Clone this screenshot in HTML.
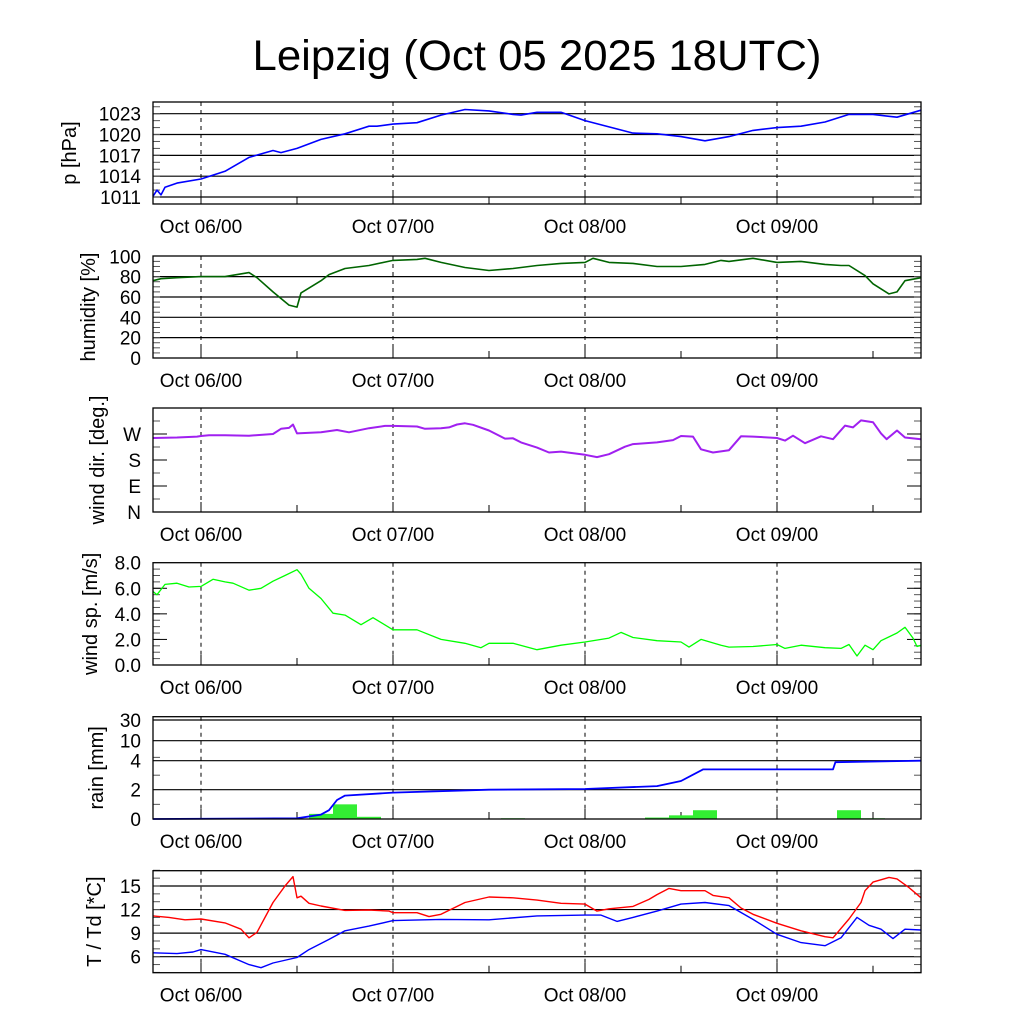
<!DOCTYPE html>
<html><head><meta charset="utf-8"><style>
html,body{margin:0;padding:0;background:#fff;}
svg{display:block;font-family:"Liberation Sans",sans-serif;}
</style></head><body>
<svg id="chart" width="1024" height="1024" viewBox="0 0 1024 1024" xmlns="http://www.w3.org/2000/svg">
<rect x="0" y="0" width="1024" height="1024" fill="#fff"/>
<text x="537" y="70" font-size="43" text-anchor="middle" textLength="569" lengthAdjust="spacingAndGlyphs">Leipzig (Oct 05 2025 18UTC)</text>
</svg>
<script>
// ---- data (hours relative to Oct 06 00UTC) ----
const dayTickLabels = ["Oct 06/00","Oct 07/00","Oct 08/00","Oct 09/00"];
const dayTickHours = [0,24,48,72];

const presHours = [-6,-5.5,-5,-4.5,-3,0,3,6,9,10,12,15,18,21,22,24,27,30,33,36,39,40,42,45,48,51,54,57,60,63,66,69,72,75,78,81,84,87,90];
const presVals  = [1011.1,1012.0,1011.3,1012.4,1013.0,1013.6,1014.7,1016.7,1017.7,1017.4,1018.0,1019.3,1020.1,1021.2,1021.2,1021.5,1021.7,1022.8,1023.6,1023.4,1022.9,1022.8,1023.2,1023.2,1022.0,1021.1,1020.2,1020.1,1019.7,1019.1,1019.7,1020.6,1021.0,1021.2,1021.8,1022.9,1022.9,1022.5,1023.5];

const humHours = [-6,-5,-3,0,3,6,7,9,11,12,12.5,15,16,18,21,24,27,28,30,33,36,39,42,45,48,49,51,54,57,60,63,65,66,69,72,75,78,80,81,83,84,86,87,88,90];
const humVals  = [76,78,79,80,80,84,79,65,52,50,64,76,82,88,91,96,97,98,94,89,86,88,91,93,94,98,94,93,90,90,92,96,95,98,94,95,92,91,91,81,73,63,65,76,79];

const dirHours = [-6,-3,-0.5,0,1,3,6,9,10,11,11.5,12,15,17,18.5,21,23,24,27,28,30,31,32,33,34,36,38,39,40,42,43.5,45,48,49.5,51,53,54,57,59,60,61.5,62.5,64,66,67.5,69,72,73,74,75.5,77.5,79,80.5,81.5,82.5,84,85,85.7,87,88,90];
const dirVals  = [256,258,261,263,266,266,264,270,288,291,303,272,276,284,276,290,298,298,296,288,290,293,303,307,302,282,254,255,241,223,206,209,198,190,200,226,235,241,249,263,261,217,206,214,262,261,256,247,264,238,262,252,299,293,317,311,272,252,282,258,252];

const spdHours = [-6,-5.5,-4.5,-3,-1.5,0,1.5,3,4,6,7.5,9,10.5,12,12.5,13.5,15,16.5,18,20,21.5,24,27,30,33,35,36,39,42,45,48,51,52.5,54,57,60,61,62.5,65,66,69,72,73,75,78,80,81,82,83,84,85,87,88,89,89.5,90];
const spdVals  = [5.75,5.5,6.3,6.4,6.1,6.15,6.7,6.5,6.4,5.85,6.0,6.55,7.0,7.45,7.1,6.0,5.2,4.05,3.9,3.15,3.7,2.75,2.75,2.0,1.7,1.35,1.7,1.7,1.2,1.55,1.8,2.1,2.55,2.15,1.9,1.8,1.4,2.0,1.55,1.4,1.45,1.6,1.3,1.55,1.35,1.3,1.6,0.7,1.55,1.2,1.9,2.5,2.95,2.1,1.45,1.55];

const rainSumHours = [-6,12,15,16,17,18,24,36,48,57,60,62.75,79,79.3,90];
const rainSumVals  = [0,0.05,0.3,0.6,1.3,1.6,1.8,2.0,2.05,2.25,2.6,3.4,3.4,3.9,4.0];
const rainBarHours = [0,3,15,18,21,39,54,57,60,63,81,84];
const rainBarVals  = [0.03,0.03,0.35,1.0,0.15,0.05,0.02,0.1,0.25,0.6,0.6,0.05];
const rainTickVals = [0,2,4,10,30];

const tHours = [-6,-4,-2,0,3,5,6,7,9,10.5,11.5,12,12.5,13.5,15,18,21,23.5,24,27,28.5,30,33,36,39,42,45,48,49.5,51,54,56,57,58.5,60,63,64,66,67.5,69,72,75,78,79,81,82.5,83,84,86,87,88.5,90];
const tVals  = [11.2,11.0,10.7,10.8,10.3,9.5,8.4,9.1,12.9,15.0,16.2,13.5,13.7,12.8,12.45,11.9,11.95,11.8,11.6,11.6,11.1,11.4,12.9,13.6,13.5,13.2,12.8,12.7,11.8,12.1,12.4,13.3,13.9,14.7,14.4,14.4,13.8,13.5,12.2,11.4,10.25,9.3,8.55,8.4,10.8,12.9,14.4,15.5,16.1,15.9,14.8,13.5];
const tdHours = [-6,-3,-1,0,3,6,7.5,9,12,13.5,16,18,21,24,30,36,42,48,50,52,54,57,60,63,66,69,72,75,78,80,82,83.5,85,86.5,88,90];
const tdVals  = [6.5,6.4,6.6,6.9,6.3,5.0,4.6,5.2,5.9,6.9,8.2,9.3,9.9,10.6,10.75,10.7,11.2,11.3,11.3,10.5,11.0,11.8,12.7,12.9,12.5,10.75,8.85,7.8,7.4,8.4,11.0,10.0,9.5,8.3,9.5,9.4];

// ---- layout ----
const NS = "http://www.w3.org/2000/svg";
const svg = document.getElementById('chart');
const X0 = 153, X1 = 921, H0 = -6, H1 = 90;
function xs(h){ return X0 + (h - H0) * (X1 - X0) / (H1 - H0); }
function lin(v0, v1, y0, y1){ return v => y0 + (v - v0) * (y1 - y0) / (v1 - v0); }
function mk(tag, attrs, parent){ const e = document.createElementNS(NS, tag); for (const k in attrs) e.setAttribute(k, attrs[k]); (parent||svg).appendChild(e); return e; }

function panel(cfg){
  const g = mk('g', {});
  
  
  const {top, bot, ys} = cfg;
  (cfg.grid||[]).forEach(v=>{
    const l = mk('line', {x1:X0, x2:X1, y1:ys(v), y2:ys(v), stroke:'#000', 'stroke-width':1.2}, g);
    
    
  });
  (cfg.minor||[]).forEach(v=>{
    const y = ys(v);
    mk('line', {x1:X0, x2:X0+7, y1:y, y2:y, stroke:'#555', 'stroke-width':1}, g);
    mk('line', {x1:X1-7, x2:X1, y1:y, y2:y, stroke:'#555', 'stroke-width':1}, g);
  });
  (cfg.major||[]).forEach(v=>{
    const y = ys(v);
    mk('line', {x1:X0, x2:X0+14, y1:y, y2:y, stroke:'#000', 'stroke-width':1}, g);
    mk('line', {x1:X1-14, x2:X1, y1:y, y2:y, stroke:'#000', 'stroke-width':1}, g);
  });
  for (let h = 12; h < H1; h += 24){
    const x = xs(h);
    mk('line', {x1:x, x2:x, y1:bot-7, y2:bot, stroke:'#000', 'stroke-width':1}, g);
  }
  dayTickHours.forEach((h,i)=>{
    const x = xs(h);
    const d = mk('line', {x1:x, x2:x, y1:top, y2:bot, stroke:'#000', 'stroke-width':1, 'stroke-dasharray':'4,4'}, g);
    
    
    mk('line', {x1:x, x2:x, y1:bot-10, y2:bot, stroke:'#000', 'stroke-width':1}, g);
    const t = mk('text', {x:x, y:bot+29, 'font-size':19, 'text-anchor':'middle'}, g);
    t.textContent = dayTickLabels[i];
    
    
  });
  cfg.labels.forEach((lab,i)=>{
    const t = mk('text', {x:141, y:ys(cfg.labelVals[i])+7, 'font-size':19, 'text-anchor':'end'}, g);
    t.textContent = lab;
    
    
  });
  const yt = mk('text', {x:0, y:0, 'font-size':20, 'text-anchor':'middle', transform:`translate(${cfg.titleX||85},${(top+bot)/2}) rotate(-90)`}, g);
  yt.textContent = cfg.title;
  
  
  cfg.draw && cfg.draw(g);
  const fr = mk('rect', {x:X0, y:top, width:X1-X0, height:bot-top, fill:'none', stroke:'#000', 'stroke-width':1.3}, g);
  
  
}
function series(g, hours, vals, ys, color, name, w){
  const d = hours.map((h,i)=>(i?'L':'M') + xs(h).toFixed(1) + ',' + ys(vals[i]).toFixed(1)).join(' ');
  const p = mk('path', {d:d, fill:'none', stroke:color, 'stroke-width':w||1.6, 'stroke-linejoin':'round'}, g);
  
  
}
function range(a,b,s){ const r=[]; for(let v=a; v<=b+1e-9; v+=s) r.push(+v.toFixed(3)); return r; }

{ const ys = lin(1011, 1023, 197, 113.7);
  panel({name:'pressure', top:102, bot:204, ys, grid:[1011,1014,1017,1020,1023], minor:range(1010,1024,1), major:[],
    labels:['1011','1014','1017','1020','1023'], labelVals:[1011,1014,1017,1020,1023], title:'p [hPa]', titleX:76,
    draw:g=>series(g, presHours, presVals, ys, '#0000ff', 'pressure-line')}); }
{ const ys = lin(0, 100, 358, 256.3);
  panel({name:'humidity', top:256, bot:358, ys, grid:[20,40,60,80], minor:range(5,95,5), major:[],
    labels:['0','20','40','60','80','100'], labelVals:[0,20,40,60,80,100], title:'humidity [%]', titleX:95,
    draw:g=>series(g, humHours, humVals, ys, '#006400', 'humidity-line')}); }
{ const ys = lin(0, 360, 512, 408);
  panel({name:'wind-direction', top:408, bot:512, ys, grid:[], minor:[45,135,225,315], major:[90,180,270],
    labels:['N','E','S','W'], labelVals:[0,90,180,270], title:'wind dir. [deg.]', titleX:104,
    draw:g=>series(g, dirHours, dirVals, ys, '#a020f0', 'wind-direction-line', 2)}); }
{ const ys = lin(0, 8, 665, 562.7);
  panel({name:'wind-speed', top:562.7, bot:665, ys, grid:[], minor:range(0.5,7.5,0.5), major:[2,4,6],
    labels:['0.0','2.0','4.0','6.0','8.0'], labelVals:[0,2,4,6,8], title:'wind sp. [m/s]', titleX:97,
    draw:g=>series(g, spdHours, spdVals, ys, '#00ff00', 'wind-speed-line', 1.3)}); }
{ const pyv = [819,789.7,760.7,740.7,720];
  const ys = v => { for (let i=1;i<rainTickVals.length;i++){ if (v<=rainTickVals[i]||i===rainTickVals.length-1){ const a=rainTickVals[i-1], b=rainTickVals[i]; return pyv[i-1]+(v-a)*(pyv[i]-pyv[i-1])/(b-a);} } };
  panel({name:'rain', top:716.7, bot:819, ys, grid:[2,4,10,30], minor:[1,3,5], major:[],
    labels:['0','2','4','10','30'], labelVals:rainTickVals, title:'rain [mm]', titleX:103,
    draw:g=>{
      rainBarHours.forEach((h,i)=>{
        const x0 = xs(h-1.5), x1 = xs(h+1.5), y = ys(rainBarVals[i]);
        const r = mk('rect', {x:x0, y:y, width:x1-x0, height:819-y, fill:'#33ee33'}, g);
        
        
      });
      series(g, rainSumHours, rainSumVals, ys, '#0000ff', 'rain-cumulative-line', 1.8);
    }}); }
{ const ys = lin(6, 15, 956.7, 886);
  panel({name:'temperature', top:870.7, bot:972.7, ys, grid:[6,9,12,15], minor:range(4,17,1), major:[],
    labels:['6','9','12','15'], labelVals:[6,9,12,15], title:'T / Td [*C]', titleX:101,
    draw:g=>{ series(g, tHours, tVals, ys, '#ff0000', 'temperature-line', 1.4);
              series(g, tdHours, tdVals, ys, '#0000ff', 'dewpoint-line', 1.4); }}); }
</script>
</body></html>
